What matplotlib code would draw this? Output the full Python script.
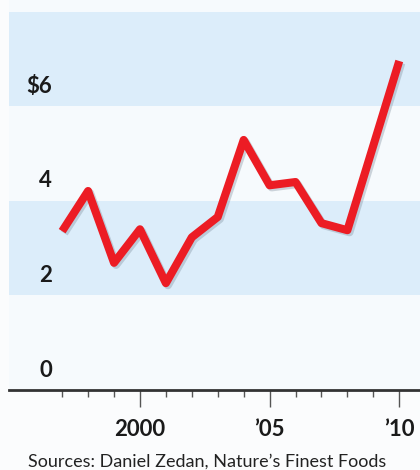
import matplotlib.pyplot as plt
import matplotlib.patheffects as pe

# data
years = [1997, 1998, 1999, 2000, 2001, 2002, 2003, 2004, 2005, 2006, 2007, 2008, 2009, 2010]
prices = [3.36, 4.21, 2.69, 3.40, 2.26, 3.23, 3.66, 5.29, 4.33, 4.40, 3.53, 3.38, 5.17, 6.96]

y_ticks = [0, 2, 4, 6]
y_labels = ['0', '2', '4', '$6']
x_major = [2000, 2005, 2010]
x_labels = ['2000', '\u201905', '\u201910']

plt.rcParams['font.family'] = ['Lato', 'DejaVu Sans']

fig = plt.figure(figsize=(4.2, 4.7), dpi=100)
fig.patch.set_facecolor('#fbfcfd')
ax = fig.add_axes([9 / 420, 1 - 390 / 470, 1 - 9 / 420, 390 / 470])
ax.set_facecolor('#f6fafd')

ax.set_xlim(1994.95, 2010.8)
ax.set_ylim(0, 8.25)

# shaded bands
ax.axhspan(2, 4, color='#dcedfa', lw=0, zorder=0)
ax.axhspan(6, 8, color='#dcedfa', lw=0, zorder=0)

ax.plot(years, prices, color='#ec1c24', lw=5.8, solid_joinstyle='round',
        solid_capstyle='butt', zorder=3,
        path_effects=[pe.SimpleLineShadow(offset=(1.5, -1.5), shadow_color='#7a8a99', alpha=0.35),
                      pe.Normal()])

# y labels inside the plot
for v, lab in zip(y_ticks, y_labels):
    ax.text(1996.6, v + 0.2, lab, ha='right', va='bottom', fontsize=16,
            color='#1a1a1a', fontweight='bold')

for s in ['left', 'right', 'top']:
    ax.spines[s].set_visible(False)
ax.spines['bottom'].set_color('#333333')
ax.spines['bottom'].set_linewidth(2)

ax.set_yticks([])
ax.set_xticks(years, minor=True)
ax.set_xticks(x_major)
ax.set_xticklabels(x_labels, fontsize=16, color='#1a1a1a', fontweight='bold')
ax.tick_params(axis='x', which='minor', direction='out', length=5, width=1, color='#555555')
ax.tick_params(axis='x', which='major', direction='out', length=12, width=1,
               color='#555555', pad=9)

fig.text(28 / 420, 1 - 462 / 470, 'Sources: Daniel Zedan, Nature\u2019s Finest Foods',
         ha='left', va='center', fontsize=13, color='#222222')

fig.savefig('out.png', dpi=100, facecolor=fig.get_facecolor())
